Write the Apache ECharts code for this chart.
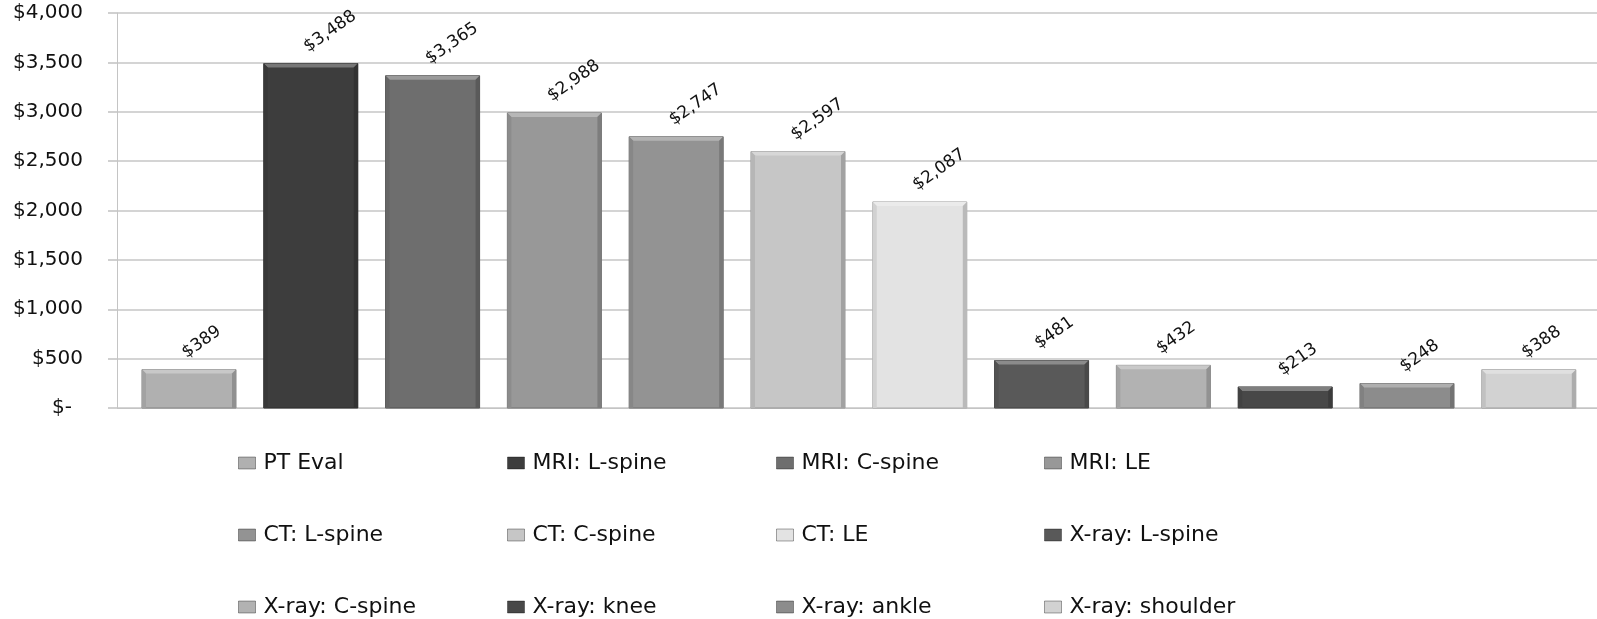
<!DOCTYPE html>
<html>
<head>
<meta charset="utf-8">
<script src="https://cdn.jsdelivr.net/npm/echarts@6/dist/echarts.min.js"></script>
<style>
  html, body { margin: 0; padding: 0; background: #ffffff; }
  #chart { width: 1597px; height: 619px; }
</style>
</head>
<body>
<div id="chart"></div>
<script>
// Procedure names, cost per procedure (USD) and the grey shade of each bar
const procedures = [
  'PT Eval', 'MRI: L-spine', 'MRI: C-spine', 'MRI: LE',
  'CT: L-spine', 'CT: C-spine', 'CT: LE', 'X-ray: L-spine',
  'X-ray: C-spine', 'X-ray: knee', 'X-ray: ankle', 'X-ray: shoulder'
];
const costs = [389, 3488, 3365, 2988, 2747, 2597, 2087, 481, 432, 213, 248, 388];
const shades = [
  '#b0b0b0', '#3d3d3d', '#6e6e6e', '#989898',
  '#939393', '#c6c6c6', '#e3e3e3', '#595959',
  '#b2b2b2', '#484848', '#8c8c8c', '#d2d2d2'
];
const yMin = 0, yMax = 4000, yStep = 500;

const FONT = 'DejaVu Sans';
const BAR_SPAN = 0.772;           // bar width in slot units
const LABEL_ANGLE = 35;           // degrees, value labels

function mix(hex, target, t) {
  const n = parseInt(hex.slice(1), 16);
  const r = (n >> 16) & 255, g = (n >> 8) & 255, b = n & 255;
  const m = v => Math.round(v + (target - v) * t);
  return 'rgb(' + m(r) + ',' + m(g) + ',' + m(b) + ')';
}

function money(v) {
  return '$' + Number(v).toLocaleString('en-US');
}

// Bar with a small bevel: lighter top edge, darker sides
function renderBevelBar(params, api) {
  const idx = api.value(0);
  const val = api.value(1);
  const top = api.coord([idx, val]);
  const base = api.coord([idx, 0]);
  const w = api.size([BAR_SPAN, 0])[0];
  const x0 = top[0] - w / 2, x1 = top[0] + w / 2;
  const y0 = top[1], y1 = base[1];
  const b = Math.min(4, (y1 - y0) / 2);
  const c = shades[idx];
  const rad = LABEL_ANGLE * Math.PI / 180;
  return {
    type: 'group',
    children: [
      { type: 'rect', shape: { x: x0, y: y0, width: w, height: y1 - y0 },
        style: { fill: c, stroke: mix(c, 0, 0.25), lineWidth: 1 } },
      { type: 'polygon', shape: { points: [[x0, y0], [x1, y0], [x1 - b, y0 + b], [x0 + b, y0 + b]] },
        style: { fill: mix(c, 255, 0.3) } },
      { type: 'polygon', shape: { points: [[x1, y0], [x1, y1], [x1 - b, y1], [x1 - b, y0 + b]] },
        style: { fill: mix(c, 0, 0.18) } },
      { type: 'polygon', shape: { points: [[x0, y0], [x0 + b, y0 + b], [x0 + b, y1], [x0, y1]] },
        style: { fill: mix(c, 0, 0.08) } },
      { type: 'text', x: top[0] - 5, y: y0 - 15, rotation: rad,
        style: { text: money(val), x: 0, y: 0, align: 'left', verticalAlign: 'middle',
                 fontFamily: FONT, fontSize: 17, fill: '#111' } }
    ]
  };
}

const series = procedures.map((name, i) => ({
  name: name,
  type: 'custom',
  renderItem: renderBevelBar,
  itemStyle: { color: shades[i] },
  encode: { x: 0, y: 1 },
  data: [[i, costs[i]]],
  clip: false,
  silent: true
}));

const legendLeft = [238, 507, 776, 1044];
const legends = legendLeft.map((left, c) => ({
  orient: 'vertical',
  left: left,
  top: 451,
  padding: 0,
  itemGap: 48,
  itemWidth: 17,
  itemHeight: 12,
  icon: 'rect',
  selectedMode: false,
  itemStyle: { borderColor: 'rgba(0,0,0,0.35)', borderWidth: 1 },
  data: [procedures[c], procedures[c + 4], procedures[c + 8]],
  textStyle: { fontFamily: FONT, fontSize: 22, color: '#111', lineHeight: 24, padding: [0, 0, 0, 3] }
}));

const chart = echarts.init(document.getElementById('chart'));
chart.setOption({
  animation: false,
  backgroundColor: '#ffffff',
  grid: { left: 117, right: 0, top: 13, bottom: 211, containLabel: false },
  xAxis: {
    type: 'value',
    min: -0.591,
    max: 11.56,
    axisLine: { show: true, onZero: true, lineStyle: { color: '#c4c4c4', width: 1 } },
    axisTick: { show: false },
    axisLabel: { show: false },
    splitLine: { show: false }
  },
  yAxis: {
    type: 'value',
    min: yMin,
    max: yMax,
    interval: yStep,
    axisLine: { show: true, onZero: false, lineStyle: { color: '#c4c4c4', width: 1 } },
    axisTick: { show: true, length: 9, lineStyle: { color: '#d0d0d0', width: 2 } },
    splitLine: { show: true, lineStyle: { color: '#d4d4d4', width: 2 } },
    axisLabel: {
      margin: 34,
      fontFamily: FONT,
      fontSize: 20,
      color: '#111',
      formatter: v => (v === 0 ? '{z|$-}' : money(v)),
      rich: { z: { fontFamily: FONT, fontSize: 20, color: '#111', padding: [0, 11, 0, 0] } }
    }
  },
  legend: legends,
  series: series
});
</script>
</body>
</html>
